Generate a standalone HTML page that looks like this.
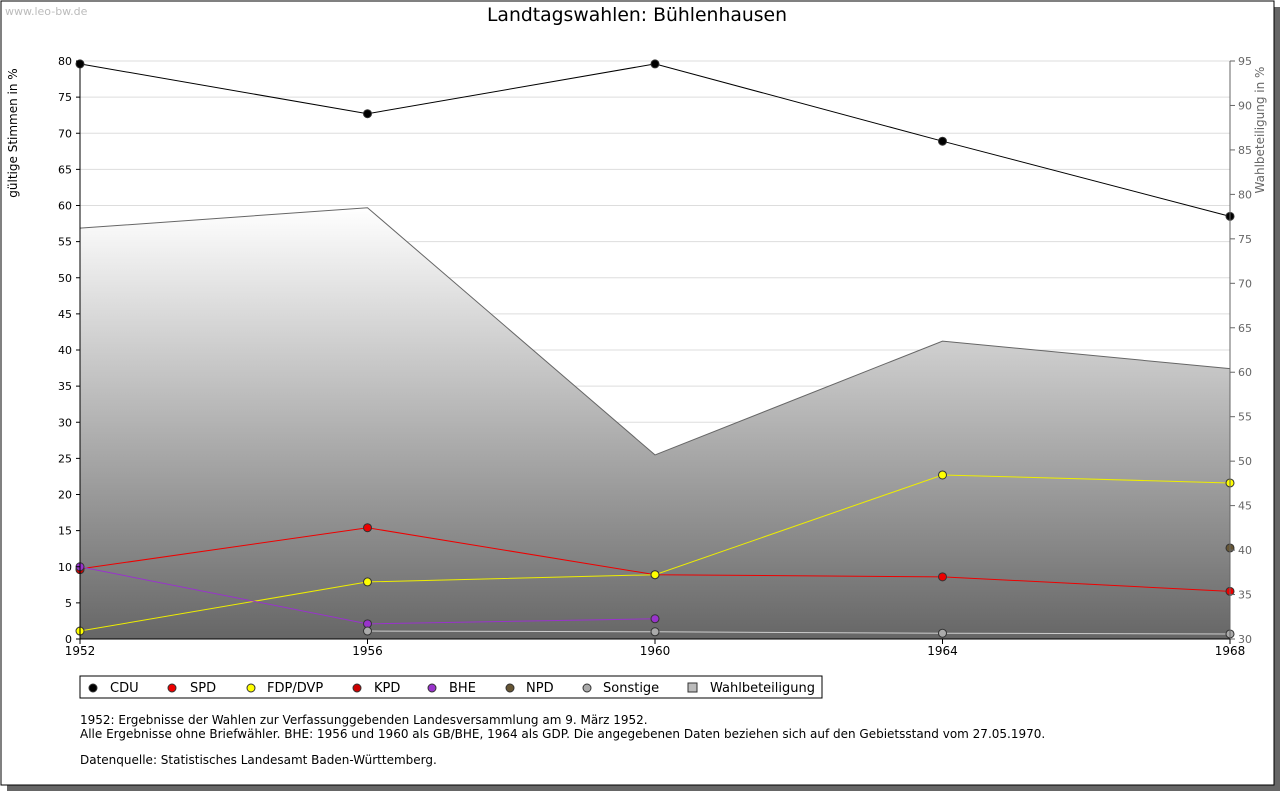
<!DOCTYPE html>
<html><head><meta charset="utf-8"><style>
body{margin:0;background:#fff;font-family:"Liberation Sans",sans-serif;}
svg text{font-family:"DejaVu Sans","Liberation Sans",sans-serif;}
</style></head><body>
<svg id="c" width="1280" height="791" xmlns="http://www.w3.org/2000/svg">
<defs><linearGradient id="g" x1="0" y1="0" x2="0" y2="1"><stop offset="0" stop-color="#ffffff"/><stop offset="1" stop-color="#666666"/></linearGradient></defs>
<rect x="7" y="7" width="1273" height="784" fill="#666"/>
<rect x="1" y="1" width="1273" height="784" fill="#fff" stroke="#000"/>
<text x="5" y="15" font-size="11" fill="#bbb">www.leo-bw.de</text>
<text x="637" y="21" font-size="18.8" text-anchor="middle">Landtagswahlen: Bühlenhausen</text>
<text transform="translate(17,133) rotate(-90)" font-size="12" text-anchor="middle">gültige Stimmen in %</text>
<text transform="translate(1264,130) rotate(-90)" font-size="12" fill="#666" text-anchor="middle">Wahlbeteiligung in %</text>
<g id="grid"></g><g id="area"></g><g id="lines"></g><g id="axes"></g>
<g>
<rect x="80" y="676" width="742" height="22" fill="#fff" stroke="#000"/>
<g id="leg"></g>
</g>
<g font-size="12">
<text x="80" y="724">1952: Ergebnisse der Wahlen zur Verfassunggebenden Landesversammlung am 9. März 1952.</text>
<text x="80" y="738">Alle Ergebnisse ohne Briefwähler. BHE: 1956 und 1960 als GB/BHE, 1964 als GDP. Die angegebenen Daten beziehen sich auf den Gebietsstand vom 27.05.1970.</text>
<text x="80" y="764">Datenquelle: Statistisches Landesamt Baden-Württemberg.</text>
</g>
</svg>
<script>
const years=[1952,1956,1960,1964,1968];
const cdu=[79.6,72.7,79.6,68.9,58.5];
const spd=[9.7,15.4,8.9,8.6,6.6];
const fdp=[1.1,7.9,8.9,22.7,21.6];
const kpd=[9.6,null,null,null,null];
const bhe=[10.0,2.1,2.8,null,null];
const npd=[null,null,null,null,12.6];
const sonst=[null,1.1,1.0,0.8,0.7];
const turnout=[76.2,78.5,50.7,63.5,60.4];
const leftTicks=[0,5,10,15,20,25,30,35,40,45,50,55,60,65,70,75,80];
const rightTicks=[30,35,40,45,50,55,60,65,70,75,80,85,90,95];
const NS='http://www.w3.org/2000/svg';
const X=y=>80+(y-1952)/16*1150;
const Y=v=>639-v*(578/80);
const Y2=v=>639-(v-30)*(578/65);
function mk(t,a,p){const e=document.createElementNS(NS,t);for(const k in a)e.setAttribute(k,a[k]);(p||document.getElementById('c')).appendChild(e);return e;}
const grid=document.getElementById('grid'),axes=document.getElementById('axes');
leftTicks.forEach(v=>{const l=mk('line',{x1:80,x2:1230,y1:Y(v),y2:Y(v),stroke:'#ddd'},grid);


const t=mk('text',{x:72,y:Y(v)+4,'font-size':11,'text-anchor':'end'},axes);t.textContent=v;


mk('line',{x1:76,x2:80,y1:Y(v),y2:Y(v),stroke:'#000'},axes);});
rightTicks.forEach(v=>{mk('line',{x1:1230,x2:1235,y1:Y2(v),y2:Y2(v),stroke:'#666'},axes);
const t=mk('text',{x:1238,y:Y2(v)+4,'font-size':11,fill:'#666'},axes);t.textContent=v;

});
years.forEach(y=>{const t=mk('text',{x:X(y),y:655,'font-size':12,'text-anchor':'middle'},axes);t.textContent=y;


mk('line',{x1:X(y),x2:X(y),y1:639,y2:644,stroke:'#000'},axes);});
mk('line',{x1:80,x2:80,y1:61,y2:639,stroke:'#000'},axes);
mk('line',{x1:1230,x2:1230,y1:61,y2:639,stroke:'#666'},axes);
mk('line',{x1:80,x2:1230,y1:639,y2:639,stroke:'#000'},axes);
let d='M'+X(years[0])+',639 '+years.map((y,i)=>'L'+X(y)+','+Y2(turnout[i])).join(' ')+' L'+X(years[4])+',639Z';
const a=mk('path',{d:d,fill:'url(#g)',stroke:'none'},document.getElementById('area'));


const al=mk('polyline',{points:years.map((y,i)=>X(y)+','+Y2(turnout[i])).join(' '),fill:'none',stroke:'#666'},document.getElementById('area'));


const series=[['cdu',cdu,'#000','#000'],['spd',spd,'#e00','#e00'],['fdp',fdp,'#ee0','#ff0'],['kpd',kpd,'#c00','#c00'],['bhe',bhe,'#93c','#93c'],['npd',npd,'#653','#653'],['sonstige',sonst,'#ccc','#aaa']];
const lg=document.getElementById('lines');
series.forEach(([n,vals,lc,fc])=>{let pts=[];vals.forEach((v,i)=>{if(v!=null)pts.push(X(years[i])+','+Y(v));});
if(pts.length>1){const p=mk('polyline',{points:pts.join(' '),fill:'none',stroke:lc},lg);

}
vals.forEach((v,i)=>{if(v==null)return;const c=mk('circle',{cx:X(years[i]),cy:Y(v),r:4,fill:fc,stroke:'#333'},lg);

});});
const leg=document.getElementById('leg');
const li=[['CDU','#000',93,110],['SPD','#e00',172,190],['FDP/DVP','#ff0',251,267],['KPD','#c00',357,374],['BHE','#93c',432,449],['NPD','#653',510,526],['Sonstige','#aaa',587,603]];
li.forEach(([t,c,mx,tx])=>{const ci=mk('circle',{cx:mx,cy:688,r:4,fill:c,stroke:'#333'},leg);


const e=mk('text',{x:tx,y:692,'font-size':13},leg);e.textContent=t;

});
mk('rect',{x:688,y:683,width:9,height:9,fill:'#bbb',stroke:'#333'},leg);
const wt=mk('text',{x:710,y:692,'font-size':13},leg);wt.textContent='Wahlbeteiligung';


</script>
</body></html>
